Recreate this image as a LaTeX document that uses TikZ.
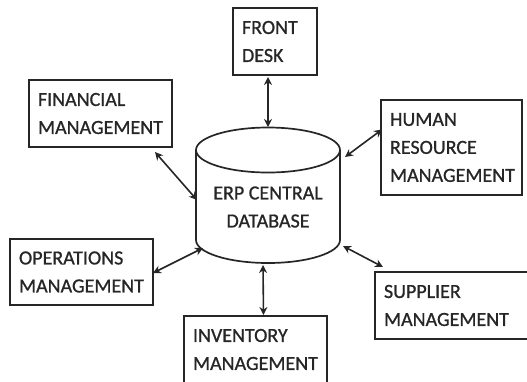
\documentclass[tikz,border=0pt]{standalone}
\usepackage{fontspec}
\setmainfont{Carlito}
\usetikzlibrary{arrows.meta,calc}

\begin{document}
\begin{tikzpicture}[x=1pt, y=-1pt,
    box/.style={draw=black!85, line width=1.7pt, anchor=north west, align=left,
        inner xsep=9pt, inner ysep=0pt, outer sep=0pt, text=black!85,
        font=\fontsize{20}{28}\selectfont\addfontfeature{FakeBold=0.9}},
    cil/.style={draw=black!85, line width=1.7pt},
    seta/.style={{Stealth[length=8pt,width=8pt]}-{Stealth[length=8pt,width=8pt]}, line width=1.6pt, draw=black!85}]
    \useasboundingbox (0,0) rectangle (527,381);

    % Caixas
    \node[box, text width=66pt, minimum height=67pt] (fd) at (233,8) {FRONT\\DESK};
    \node[box, text width=125pt, minimum height=67pt] (fin) at (29,80) {FINANCIAL\\MANAGEMENT};
    \node[box, text width=123pt, minimum height=95pt] (hr) at (381,100) {HUMAN\\RESOURCE\\MANAGEMENT};
    \node[box, text width=125pt, minimum height=66pt] (ops) at (10,239) {OPERATIONS\\MANAGEMENT};
    \node[box, text width=125pt, minimum height=67pt] (inv) at (184,316) {INVENTORY\\MANAGEMENT};
    \node[box, text width=142pt, minimum height=67pt] (sup) at (375,272) {SUPPLIER\\MANAGEMENT};

    % Cilindro
    \draw[cil] (196,150) -- (196,240) arc[start angle=180, end angle=0, x radius=72, y radius=23] -- (340,150);
    \draw[cil] (268,150) ellipse[x radius=72, y radius=22.5];
    \node[text=black!85, align=center, font=\fontsize{20}{28}\selectfont\addfontfeature{FakeBold=0.9}] (db) at (268,207) {ERP CENTRAL\\DATABASE};

    \coordinate (c1) at (268,127);
    \coordinate (c2) at (197,200);
    \coordinate (c3) at (345,157);
    \coordinate (c4) at (203,248);
    \coordinate (c5) at (263,265);
    \coordinate (c6) at (343,246);

    % Setas
    \draw[seta] ($(fd.south)+(-7,2)$) -- (c1);
    \draw[seta] ($(fin.south east)+(-17,5)$) -- (c2);
    \draw[seta] (c3) -- ($(hr.west)+(1,-18)$);
    \draw[seta] ($(ops.east)+(0,1)$) -- (c4);
    \draw[seta] (c5) -- ($(inv.north)+(8,-1)$);
    \draw[seta] (c6) -- ($(sup.north west)+(8,-5)$);
\end{tikzpicture}
\end{document}
